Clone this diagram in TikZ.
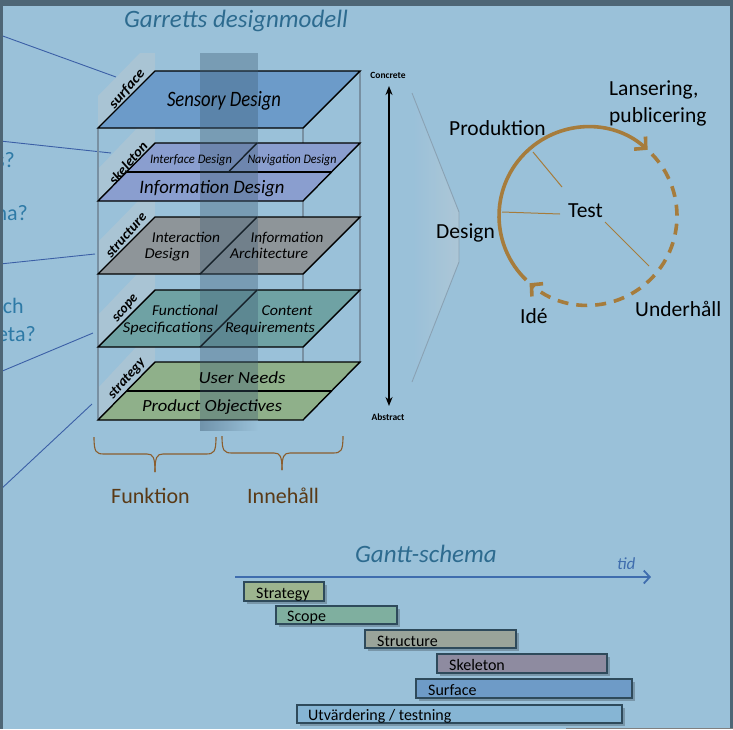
\documentclass[tikz,border=0pt]{standalone}
\usepackage{fontspec}
\setmainfont{Carlito}
\usetikzlibrary{arrows.meta}
\definecolor{bg}{HTML}{9AC1D9}
\definecolor{framec}{HTML}{4E6676}
\definecolor{ttl}{HTML}{2D6B8F}
\definecolor{lefttxt}{HTML}{2E7AA6}
\definecolor{blueln}{HTML}{3B5FA6}
\definecolor{csurf}{HTML}{6C9BC9}
\definecolor{cskel}{HTML}{8A9ECF}
\definecolor{cstruc}{HTML}{8E9599}
\definecolor{cscope}{HTML}{6FA2A4}
\definecolor{cstrat}{HTML}{8FB08A}
\definecolor{boxln}{HTML}{7890A2}
\definecolor{bandc}{HTML}{3E5C74}
\definecolor{cycc}{HTML}{A67C3C}
\definecolor{brc}{HTML}{8B5E2E}
\definecolor{brtxt}{HTML}{5A3A16}
\definecolor{glinec}{HTML}{3F6DAE}
\definecolor{gbord}{HTML}{2E4A5B}
\definecolor{gstrat}{HTML}{9DB58F}
\definecolor{gscope}{HTML}{7FAF9F}
\definecolor{gstruc}{HTML}{9AA49A}
\definecolor{gskel}{HTML}{8E8BA0}
\definecolor{gsurf}{HTML}{6E9BC7}
\definecolor{gtest}{HTML}{86B5D4}
\definecolor{funnelln}{HTML}{8AA2B4}
\definecolor{funnelfill}{HTML}{B2C8D6}
\definecolor{tabc}{HTML}{BCC8D0}
\newcommand\fw[2]{\resizebox{#1pt}{\height}{#2}}
\begin{document}
\begin{tikzpicture}[x=1pt,y=-1pt,
  plane/.style={draw=black, line width=1.4pt, line join=miter},
  divline/.style={draw=black, line width=1.4pt},
  tabshape/.style={fill=tabc, fill opacity=0.45},
  tablab/.style={inner sep=0, text=black, font=\fontsize{14}{14}\selectfont\bfseries\itshape},
  pl/.style={inner sep=0, anchor=base, text=black, font=\fontsize{#1}{#1}\selectfont\itshape},
  lefttext/.style={inner sep=0, anchor=base east, text=lefttxt, font=\fontsize{22}{22}\selectfont},
  bluelink/.style={draw=blueln, line width=0.9pt},
  cyctext/.style={inner sep=0, anchor=base west, text=black, font=\fontsize{21.5}{21.5}\selectfont},
  cycline/.style={draw=cycc, line width=3.6pt},
  spoke/.style={draw=cycc, line width=1pt},
  bracepath/.style={draw=brc, line width=1.1pt},
  bracetext/.style={inner sep=0, anchor=base west, text=brtxt, font=\fontsize{22}{22}\selectfont},
  titletext/.style={inner sep=0, anchor=base west, text=ttl, font=\fontsize{25}{25}\selectfont\itshape},
  axlab/.style={inner sep=0, text=black, font=\fontsize{9.5}{9.5}\selectfont\bfseries},
  gbar/.style={draw=gbord, line width=1.1pt},
  gshadow/.style={fill=black, fill opacity=0.22},
  gtext/.style={inner sep=0, anchor=base west, text=black, font=\fontsize{16}{16}\selectfont}
]
\useasboundingbox (0,0) rectangle (733,729);
\clip (0,0) rectangle (733,729);
\fill[bg] (0,0) rectangle (733,729);

% ---- left partial texts and links
\node[lefttext] (q1) at (15,167) {s?};
\node[lefttext] (q2) at (28,220) {na?};
\node[lefttext] (q3) at (24,313) {och};
\node[lefttext] (q4) at (36,341) {eta?};
\coordinate (l1a) at (0,35);   \coordinate (l1b) at (116,77);
\coordinate (l2a) at (0,141);  \coordinate (l2b) at (111,153);
\coordinate (l3a) at (0,264);  \coordinate (l3b) at (95,254);
\coordinate (l4a) at (0,372);  \coordinate (l4b) at (93,333);
\coordinate (l5a) at (0,490);  \coordinate (l5b) at (92,404);
\draw[bluelink] (l1a) -- (l1b);
\draw[bluelink] (l2a) -- (l2b);
\draw[bluelink] (l3a) -- (l3b);
\draw[bluelink] (l4a) -- (l4b);
\draw[bluelink] (l5a) -- (l5b);

% ---- title
\node[titletext] (title) at (124,27) {Garretts designmodell};

% ---- side tabs
\fill[tabshape] (98,128) -- (155,71) -- (155,53) -- (140,53) -- (98,96) -- cycle;
\fill[tabshape] (98,201) -- (155,144) -- (155,125) -- (140,125) -- (98,169) -- cycle;
\fill[tabshape] (98,274) -- (155,217) -- (155,199) -- (140,199) -- (98,242) -- cycle;
\fill[tabshape] (98,347) -- (155,290) -- (155,271) -- (140,271) -- (98,315) -- cycle;
\fill[tabshape] (98,420) -- (155,363) -- (155,343) -- (140,343) -- (98,388) -- cycle;

% ---- box verticals
\draw[boxln, line width=2.8pt] (98,128) -- (98,420);
\draw[boxln, line width=1.6pt] (303,128) -- (303,420);
\draw[boxln, line width=1.6pt] (360,71) -- (360,362);

% ---- planes
\draw[plane, fill=csurf] (98,128) -- (155,71) -- (360,71) -- (303,128) -- cycle;
\draw[plane, fill=cskel] (98,201) -- (155,143) -- (360,143) -- (303,201) -- cycle;
\draw[divline] (126.5,172) -- (331.5,172);
\draw[divline] (257,143) -- (228.5,172);
\draw[plane, fill=cstruc] (98,274) -- (155,217) -- (360,217) -- (303,274) -- cycle;
\draw[divline] (257,217) -- (200,274);
\draw[plane, fill=cscope] (98,347) -- (155,290) -- (360,290) -- (303,347) -- cycle;
\draw[divline] (257,290) -- (200,347);
\draw[plane, fill=cstrat] (98,420) -- (155,362) -- (360,362) -- (303,420) -- cycle;
\draw[divline] (126.5,391) -- (331.5,391);

% ---- central translucent band
\fill[bandc, fill opacity=0.36] (200,53) rectangle (258,420);
\shade[left color=bandc, right color=bg, fill opacity=0.45] (200,420) rectangle (258,430);

% ---- tab labels
\node[tablab, rotate=49] (tsurf) at (127,89) {\fw{47}{surface}};
\node[tablab, rotate=49] (tskel) at (128,163) {\fw{51}{skeleton}};
\node[tablab, rotate=49] (tstruc) at (126,235) {\fw{55}{structure}};
\node[tablab, rotate=49] (tscope) at (126,309) {\fw{32}{scope}};
\node[tablab, rotate=49] (tstrat) at (127,379) {\fw{49}{strategy}};

% ---- plane labels
\node[pl=22] (psens) at (224,106) {\fw{114}{Sensory Design}};
\node[pl=13] (pinter) at (191,163) {\fw{82}{Interface Design}};
\node[pl=13] (pnav) at (292,163) {\fw{89}{Navigation Design}};
\node[pl=19] (pinfo) at (212,193) {\fw{145}{Information Design}};
\node[pl=15] (pia1) at (186,242) {\fw{68}{Interaction}};
\node[pl=15] (pia2) at (167,258) {\fw{45}{Design}};
\node[pl=15] (par1) at (287,242) {\fw{73}{Information}};
\node[pl=15] (par2) at (269,258) {\fw{78}{Architecture}};
\node[pl=15] (pfs1) at (185,315) {\fw{66}{Functional}};
\node[pl=15] (pfs2) at (168,332) {\fw{90}{Specifications}};
\node[pl=15] (pcr1) at (287,315) {\fw{51}{Content}};
\node[pl=15] (pcr2) at (270,332) {\fw{90}{Requirements}};
\node[pl=17] (pun) at (242,383) {\fw{87}{User Needs}};
\node[pl=17] (ppo) at (212,411) {\fw{140}{Product Objectives}};

% ---- concrete / abstract axis
\node[axlab] (conc) at (388,75) {Concrete};
\node[axlab] (abst) at (388,417) {Abstract};
\coordinate (axtop) at (389,86);
\coordinate (axbot) at (389,406);
\draw[black, line width=2.4pt, {Stealth[length=9pt,width=7pt]}-{Stealth[length=9pt,width=7pt]}] (axtop) -- (axbot);

% ---- funnel
\shade[left color=bg, right color=funnelfill, fill opacity=0.8] (412,93) -- (459,212) -- (459,262) -- (412,382) -- cycle;
\draw[funnelln, line width=0.9pt] (412,93) -- (459,212) -- (459,262) -- (412,382);

% ---- cycle
\draw[cycline, -{Straight Barb[length=8pt,width=17pt]}] (526.2,280.0) arc[start angle=226, end angle=48, radius=89pt];
\draw[cycline, dash pattern=on 11pt off 8pt, -{Straight Barb[length=8pt,width=17pt]}] (652.0,154.2) arc[start angle=44, end angle=-131, radius=89pt];
\coordinate (sp1a) at (533,152); \coordinate (sp1b) at (562,187);
\coordinate (sp2a) at (502,212); \coordinate (sp2b) at (560,214);
\coordinate (sp3a) at (605,222); \coordinate (sp3b) at (649,266);
\draw[spoke] (sp1a) -- (sp1b);
\draw[spoke] (sp2a) -- (sp2b);
\draw[spoke] (sp3a) -- (sp3b);
\node[cyctext] (cprod) at (449,135) {Produktion};
\node[cyctext] (clans) at (609,95) {Lansering,};
\node[cyctext] (cpub) at (609,122) {publicering};
\node[cyctext] (ctest) at (568,217) {Test};
\node[cyctext] (cdes) at (436,238) {Design};
\node[cyctext] (cide) at (520,323) {Idé};
\node[cyctext] (cund) at (635,316) {Underhåll};

% ---- braces
\draw[bracepath] (94,437) .. controls (94,452) and (96,454) .. (104,454) -- (147,454) .. controls (153,454) and (155,457) .. (155,472);
\draw[bracepath] (216,437) .. controls (216,452) and (214,454) .. (206,454) -- (163,454) .. controls (157,454) and (155,457) .. (155,472);
\draw[bracepath] (222,436) .. controls (222,451) and (224,453) .. (232,453) -- (274,453) .. controls (280,453) and (282,456) .. (282,470);
\draw[bracepath] (343,436) .. controls (343,451) and (341,453) .. (333,453) -- (290,453) .. controls (284,453) and (282,456) .. (282,470);
\node[bracetext] (funk) at (111,503) {Funktion};
\node[bracetext] (inne) at (247,503) {Innehåll};

% ---- Gantt
\node[titletext] (gtitle) at (355,562) {Gantt-schema};
\coordinate (tstart) at (235,577);
\coordinate (tend) at (651,577);
\draw[glinec, line width=1.8pt, -{Straight Barb[length=6pt,width=13pt]}] (tstart) -- (tend);
\node[inner sep=0, anchor=base west, text=glinec, font=\fontsize{17}{17}\selectfont\itshape] (tid) at (617,569) {tid};

\fill[gshadow] (247,585) rectangle (327,604);
\draw[gbar, fill=gstrat] (244,582) rectangle (324,601);
\node[gtext] (bstrat) at (256,598) {Strategy};
\fill[gshadow] (279,609) rectangle (400,627);
\draw[gbar, fill=gscope] (276,606) rectangle (397,624);
\node[gtext] (bscope) at (287,621) {Scope};
\fill[gshadow] (368,633) rectangle (519,651);
\draw[gbar, fill=gstruc] (365,630) rectangle (516,648);
\node[gtext] (bstruc) at (377,646) {Structure};
\fill[gshadow] (440,657) rectangle (610,676);
\draw[gbar, fill=gskel] (437,654) rectangle (607,673);
\node[gtext] (bskel) at (449,670) {Skeleton};
\fill[gshadow] (419,682) rectangle (635,701);
\draw[gbar, fill=gsurf] (416,679) rectangle (632,698);
\node[gtext] (bsurf) at (428,695) {Surface};
\fill[gshadow] (300,708) rectangle (625,726);
\draw[gbar, fill=gtest] (297,705) rectangle (622,723);
\node[gtext] (btest) at (308,720) {Utvärdering / testning};

% ---- frame
\fill[framec] (0,0) rectangle (733,6);
\fill[framec] (0,0) rectangle (3,729);
\fill[framec] (730,0) rectangle (733,729);
\fill[gray] (566,727.5) rectangle (733,729);
\end{tikzpicture}
\end{document}
